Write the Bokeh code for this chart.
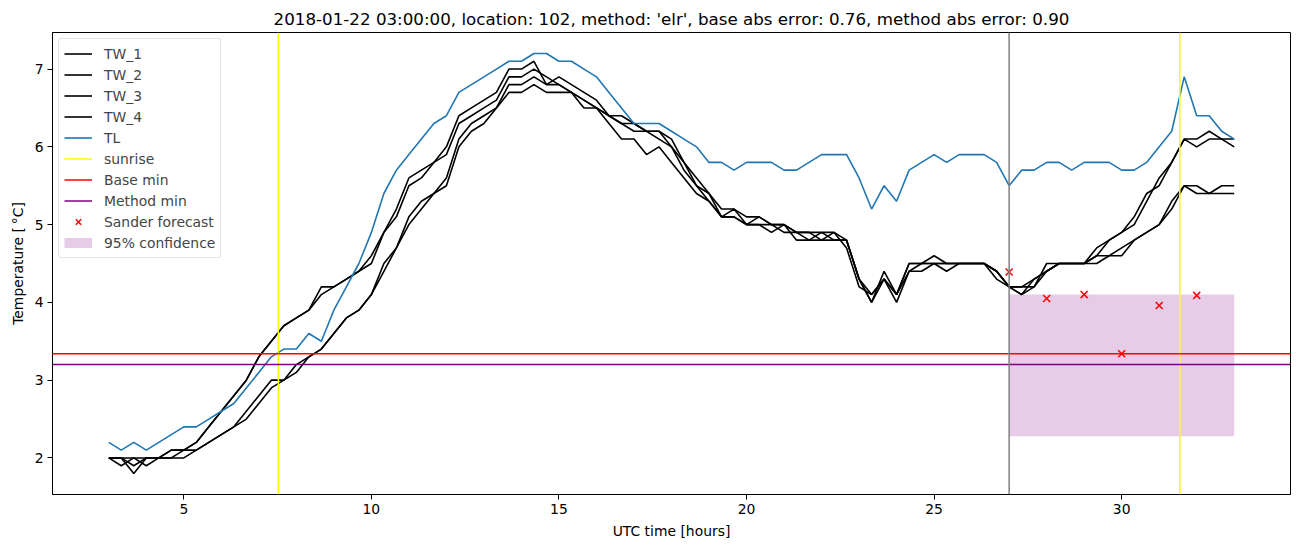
from bokeh.plotting import figure
from bokeh.models import Span, Legend, LegendItem, FixedTicker
from bokeh.embed import file_html
from bokeh.resources import INLINE

# ---------------- data ----------------
# time axis: hours since 2018-01-21 00:00 UTC, 20-minute samples from 3 h to 33 h
hours = [3 + k / 3 for k in range(91)]

tw_1 = [2.0, 1.9, 2.0, 2.0, 2.0, 2.1, 2.1, 2.2, 2.4, 2.6, 2.8, 3.0, 3.3, 3.5, 3.7, 3.8,
        3.9, 4.2, 4.2, 4.3, 4.4, 4.6, 4.9, 5.2, 5.6, 5.7, 5.8, 6.0, 6.4, 6.5, 6.6, 6.7,
        7.0, 7.0, 7.1, 6.8, 6.9, 6.8, 6.7, 6.6, 6.4, 6.4, 6.3, 6.2, 6.2, 6.1, 5.8, 5.6,
        5.4, 5.2, 5.2, 5.1, 5.1, 5.0, 5.0, 4.9, 4.9, 4.9, 4.9, 4.8, 4.3, 4.0, 4.3, 4.1,
        4.5, 4.5, 4.6, 4.5, 4.5, 4.5, 4.5, 4.4, 4.2, 4.2, 4.3, 4.4, 4.5, 4.5, 4.5, 4.7,
        4.8, 4.9, 5.0, 5.3, 5.6, 5.8, 6.1, 6.1, 6.2, 6.1, 6.0]
tw_2 = [2.0, 2.0, 1.8, 2.0, 2.0, 2.1, 2.1, 2.2, 2.4, 2.6, 2.8, 3.0, 3.3, 3.5, 3.7, 3.8,
        3.9, 4.1, 4.2, 4.3, 4.4, 4.5, 4.9, 5.1, 5.5, 5.6, 5.8, 5.9, 6.3, 6.4, 6.5, 6.6,
        6.9, 6.9, 7.0, 6.9, 6.8, 6.7, 6.6, 6.5, 6.4, 6.3, 6.3, 6.2, 6.1, 6.0, 5.8, 5.5,
        5.4, 5.1, 5.2, 5.0, 5.1, 5.0, 5.0, 4.9, 4.8, 4.9, 4.8, 4.8, 4.3, 4.0, 4.4, 4.1,
        4.5, 4.5, 4.5, 4.5, 4.5, 4.5, 4.5, 4.4, 4.2, 4.2, 4.2, 4.5, 4.5, 4.5, 4.5, 4.6,
        4.8, 4.9, 5.1, 5.4, 5.5, 5.8, 6.1, 6.0, 6.1, 6.1, 6.1]
tw_3 = [2.0, 2.0, 1.9, 2.0, 2.0, 2.0, 2.1, 2.1, 2.2, 2.3, 2.4, 2.6, 2.8, 3.0, 3.0, 3.2,
        3.3, 3.4, 3.6, 3.8, 3.9, 4.1, 4.5, 4.7, 5.1, 5.3, 5.4, 5.6, 6.1, 6.3, 6.4, 6.5,
        6.8, 6.8, 6.9, 6.8, 6.8, 6.7, 6.6, 6.5, 6.4, 6.3, 6.2, 6.2, 6.2, 6.0, 5.7, 5.5,
        5.3, 5.1, 5.1, 5.0, 5.0, 4.9, 5.0, 4.8, 4.8, 4.8, 4.9, 4.7, 4.2, 4.1, 4.3, 4.0,
        4.4, 4.5, 4.5, 4.4, 4.5, 4.5, 4.5, 4.3, 4.2, 4.1, 4.3, 4.4, 4.5, 4.5, 4.5, 4.6,
        4.6, 4.6, 4.8, 4.9, 5.0, 5.3, 5.5, 5.4, 5.4, 5.5, 5.5]
tw_4 = [2.0, 2.0, 2.0, 1.9, 2.0, 2.0, 2.0, 2.1, 2.2, 2.3, 2.4, 2.5, 2.7, 2.9, 3.0, 3.1,
        3.3, 3.4, 3.6, 3.8, 3.9, 4.1, 4.4, 4.7, 5.0, 5.2, 5.4, 5.5, 6.0, 6.2, 6.3, 6.5,
        6.7, 6.7, 6.8, 6.7, 6.7, 6.7, 6.5, 6.5, 6.3, 6.1, 6.1, 5.9, 6.0, 5.8, 5.6, 5.4,
        5.3, 5.1, 5.1, 5.0, 5.0, 5.0, 4.9, 4.9, 4.9, 4.8, 4.8, 4.8, 4.3, 4.1, 4.3, 4.1,
        4.4, 4.4, 4.5, 4.5, 4.5, 4.5, 4.5, 4.4, 4.2, 4.1, 4.2, 4.4, 4.5, 4.5, 4.5, 4.5,
        4.6, 4.7, 4.8, 4.9, 5.0, 5.2, 5.5, 5.5, 5.4, 5.4, 5.4]
tl = [2.2, 2.1, 2.2, 2.1, 2.2, 2.3, 2.4, 2.4, 2.5, 2.6, 2.7, 2.9, 3.1, 3.3, 3.4, 3.4,
      3.6, 3.5, 3.9, 4.2, 4.5, 4.9, 5.4, 5.7, 5.9, 6.1, 6.3, 6.4, 6.7, 6.8, 6.9, 7.0,
      7.1, 7.1, 7.2, 7.2, 7.1, 7.1, 7.0, 6.9, 6.7, 6.5, 6.3, 6.3, 6.3, 6.2, 6.1, 6.0,
      5.8, 5.8, 5.7, 5.8, 5.8, 5.8, 5.7, 5.7, 5.8, 5.9, 5.9, 5.9, 5.6, 5.2, 5.5, 5.3,
      5.7, 5.8, 5.9, 5.8, 5.9, 5.9, 5.9, 5.8, 5.5, 5.7, 5.7, 5.8, 5.8, 5.7, 5.8, 5.8,
      5.8, 5.7, 5.7, 5.8, 6.0, 6.2, 6.9, 6.4, 6.4, 6.2, 6.1]

sunrise_hours = [7.52, 31.55]
forecast_start = 27.0
base_min = 3.34
method_min = 3.20
forecast_hours = [27, 28, 29, 30, 31, 32]
forecast_values = [4.39, 4.05, 4.10, 3.34, 3.96, 4.09]
conf_hours = [27, 33]
conf_lower = [2.28, 2.28]
conf_upper = [4.10, 4.10]

title = ("2018-01-22 03:00:00, location: 102, method: 'elr', "
         "base abs error: 0.76, method abs error: 0.90")

FONT = "DejaVu Sans"
NAN = [float("nan")]

# ---------------- figure ----------------
p = figure(width=1302, height=547, x_range=(1.5, 34.5), y_range=(1.53, 7.47),
           output_backend="svg", toolbar_location=None,
           min_border_left=52, min_border_right=12, min_border_top=32,
           min_border_bottom=53, title=title)
p.title.align = "center"
p.title.text_font = FONT
p.title.text_font_size = "16.7px"
p.title.text_font_style = "normal"
p.title.text_color = "black"
p.title.standoff = 7

p.xgrid.visible = False
p.ygrid.visible = False
p.outline_line_color = "black"
p.outline_line_alpha = 1
p.outline_line_width = 1
p.background_fill_color = "white"
p.border_fill_color = "white"

p.xaxis.ticker = FixedTicker(ticks=[5, 10, 15, 20, 25, 30])
p.yaxis.ticker = FixedTicker(ticks=[2, 3, 4, 5, 6, 7])
for ax in (p.xaxis, p.yaxis):
    ax.major_tick_in = 0
    ax.major_tick_out = 5
    ax.minor_tick_line_color = None
    ax.axis_line_color = "black"
    ax.major_tick_line_color = "black"
    ax.major_label_text_font = FONT
    ax.major_label_text_font_size = "13.9px"
    ax.major_label_text_color = "black"
    ax.major_label_standoff = 4
    ax.axis_label_text_font = FONT
    ax.axis_label_text_font_size = "13.9px"
    ax.axis_label_text_font_style = "normal"
    ax.axis_label_text_color = "black"
    ax.axis_label_standoff = 6
p.xaxis.axis_label = "UTC time [hours]"
p.yaxis.axis_label = "Temperature [\u2009°C]"

# confidence band (drawn below lines)
p.varea(x=conf_hours, y1=conf_lower, y2=conf_upper, fill_color="purple", fill_alpha=0.2)

r_tw = []
for series in (tw_1, tw_2, tw_3, tw_4):
    r_tw.append(p.line(hours, series, line_color="black", line_width=1.6))
r_tl = p.line(hours, tl, line_color="#1f77b4", line_width=1.6)

for s in sunrise_hours:
    p.add_layout(Span(location=s, dimension="height", line_color="yellow", line_width=1.5))
p.add_layout(Span(location=base_min, dimension="width", line_color="red", line_width=1.5))
p.add_layout(Span(location=method_min, dimension="width", line_color="purple", line_width=1.5))
p.add_layout(Span(location=forecast_start, dimension="height", line_color="gray", line_width=1.5))

r_fc = p.scatter(forecast_hours, forecast_values, marker="x", size=10,
                 line_color="red", line_width=1.5)

# legend proxies (NaN data, nothing drawn in the plot area)
r_sun = p.line(NAN, NAN, line_color="yellow", line_width=1.5)
r_base = p.line(NAN, NAN, line_color="red", line_width=1.5)
r_meth = p.line(NAN, NAN, line_color="purple", line_width=1.5)
r_conf = p.line(NAN, NAN, line_color="purple", line_alpha=0.2, line_width=10)

items = [LegendItem(label=f"TW_{i+1}", renderers=[r]) for i, r in enumerate(r_tw)]
items += [LegendItem(label="TL", renderers=[r_tl]),
          LegendItem(label="sunrise", renderers=[r_sun]),
          LegendItem(label="Base min", renderers=[r_base]),
          LegendItem(label="Method min", renderers=[r_meth]),
          LegendItem(label="Sander forecast", renderers=[r_fc]),
          LegendItem(label="95% confidence", renderers=[r_conf])]
legend = Legend(items=items, location="top_left", margin=6, padding=5, spacing=2,
                glyph_width=28, glyph_height=19, label_height=19, label_standoff=12,
                label_text_font=FONT, label_text_font_size="13.9px",
                border_line_color="#cccccc", border_line_width=1,
                background_fill_alpha=0.8)
if "border_radius" in Legend.properties():
    legend.border_radius = 3
p.add_layout(legend)

open("out.html", "w").write(file_html(p, INLINE))
